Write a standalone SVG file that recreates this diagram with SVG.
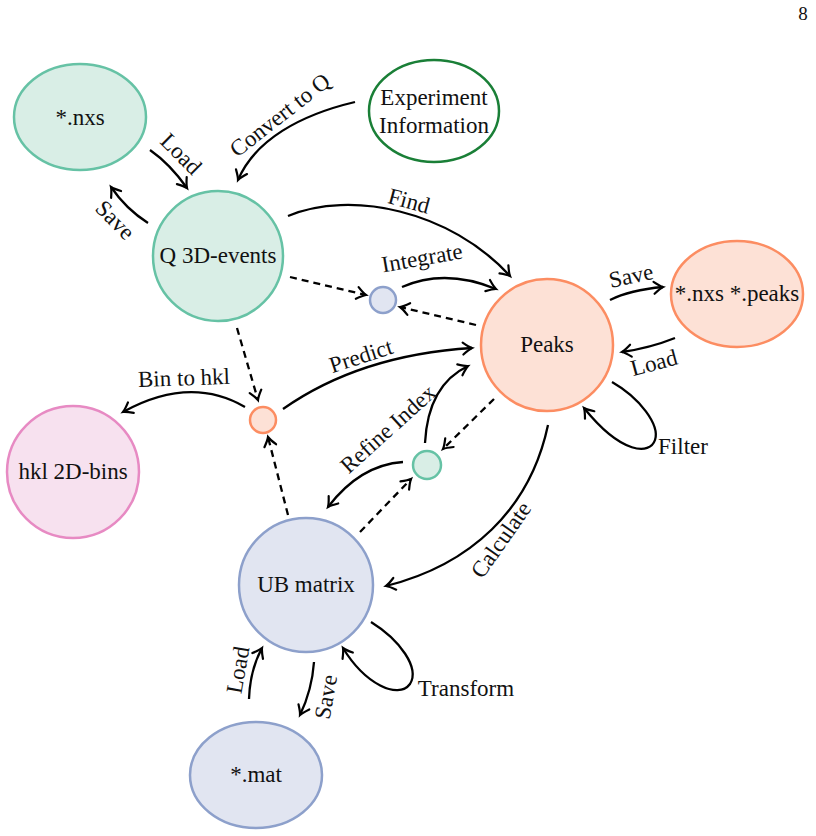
<svg xmlns="http://www.w3.org/2000/svg" width="816" height="836" viewBox="0 0 816 836" font-family="Liberation Serif, Tinos, Times New Roman, DejaVu Serif, serif">
<defs>
<style>
text{font-family:"Liberation Serif",Tinos,"Times New Roman","DejaVu Serif",serif;font-size:23px;fill:#111;}
.nt{text-anchor:middle;}
.lb{text-anchor:middle;dominant-baseline:central;}
.g{fill:#d9eee6;stroke:#66c2a5;stroke-width:2.5;}
.o{fill:#fde1d6;stroke:#fc8d62;stroke-width:2.5;}
.b{fill:#e1e5f1;stroke:#8da0cb;stroke-width:2.5;}
.p{fill:#f7e1ef;stroke:#e78ac3;stroke-width:2.5;}
.x{fill:#fff;stroke:#1a7f37;stroke-width:2.5;}
.e{fill:none;stroke:#000;stroke-width:2.3;marker-end:url(#ah);}
.d{fill:none;stroke:#000;stroke-width:2.3;stroke-dasharray:7,5;marker-end:url(#ah);}
</style>
<marker id="ah" markerUnits="userSpaceOnUse" markerWidth="16" markerHeight="16" viewBox="-11 -8 16 16" refX="0" refY="0" orient="auto">
<path d="M-9,-6 Q-3,-1.2 0,0 Q-3,1.2 -9,6" fill="none" stroke="#000" stroke-width="2.2" stroke-linecap="round"/>
</marker>
</defs>
<text x="803" y="20" style="font-size:19px" class="nt">8</text>
<g id="edges">
<path class="e" d="M150,150 Q170,164 187,188"/>
<path class="e" d="M148,223 Q126,209 111,187"/>
<path class="e" d="M355,102 C300,115 255,140 238,180"/>
<path class="e" d="M288,216 C350,190 450,210 510,276"/>
<path class="e" d="M402,287 Q445,268 496,289"/>
<path class="d" d="M290,277 L366,295"/>
<path class="d" d="M476,325 L400,307"/>
<path class="e" d="M610,300 Q630,290 663,287"/>
<path class="e" d="M675,338 Q650,348 622,352"/>
<path class="e" d="M612,382 C640,398 660,425 655,440 C650,455 622,455 584,408"/>
<path class="d" d="M237,328 L258,400"/>
<path class="e" d="M245,407 Q190,375 123,412"/>
<path class="e" d="M283,409 Q360,355 472,348"/>
<path class="d" d="M288,515 L268,437"/>
<path class="e" d="M425,443 Q428,385 468,366"/>
<path class="e" d="M403,462 Q360,465 328,507"/>
<path class="d" d="M494,399 L443,449"/>
<path class="d" d="M360,532 L411,479"/>
<path class="e" d="M548,425 C530,510 470,565 386,586"/>
<path class="e" d="M371,622 C400,640 420,668 410,684 C398,700 365,684 343,648"/>
<path class="e" d="M249,699 Q250,670 262,648"/>
<path class="e" d="M314,662 Q312,690 300,715"/>
</g>
<g id="edge-labels">
<text class="lb" transform="translate(181,154) rotate(45)">Load</text>
<text class="lb" transform="translate(115,220) rotate(45)">Save</text>
<text class="lb" transform="translate(280,115) rotate(-38)">Convert to Q</text>
<text class="lb" transform="translate(409,201) rotate(15)">Find</text>
<text class="lb" transform="translate(422,258) rotate(-10)">Integrate</text>
<text class="lb" transform="translate(631,276) rotate(-12)">Save</text>
<text class="lb" transform="translate(654,363) rotate(-15)">Load</text>
<text class="lb" transform="translate(683,446)">Filter</text>
<text class="lb" transform="translate(184,378) rotate(-2)">Bin to hkl</text>
<text class="lb" transform="translate(361,356) rotate(-18)">Predict</text>
<text class="lb" transform="translate(388,429) rotate(-42)">Refine Index</text>
<text class="lb" transform="translate(501,540) rotate(-55)">Calculate</text>
<text class="lb" transform="translate(466,688)">Transform</text>
<text class="lb" transform="translate(238,670) rotate(-80)">Load</text>
<text class="lb" transform="translate(326,697) rotate(-80)">Save</text>
</g>
<g id="n-nxs"><ellipse class="g" cx="80" cy="117" rx="66" ry="53"/><text class="nt" x="80" y="125">*.nxs</text></g>
<g id="n-q"><circle class="g" cx="218" cy="256" r="65"/><text class="nt" x="218" y="263">Q 3D-events</text></g>
<g id="n-exp"><ellipse class="x" cx="434" cy="111" rx="65" ry="51"/><text class="nt" x="434" y="105">Experiment</text><text class="nt" x="434" y="133">Information</text></g>
<g id="n-peaks"><circle class="o" cx="547" cy="345" r="66"/><text class="nt" x="547" y="352">Peaks</text></g>
<g id="n-peaksfile"><ellipse class="o" cx="737" cy="294" rx="66" ry="53"/><text class="nt" x="737" y="301">*.nxs *.peaks</text></g>
<g id="n-hkl"><circle class="p" cx="73" cy="472" r="66"/><text class="nt" x="73" y="479">hkl 2D-bins</text></g>
<g id="n-ub"><circle class="b" cx="306" cy="585" r="67"/><text class="nt" x="306" y="592">UB matrix</text></g>
<g id="n-mat"><ellipse class="b" cx="256" cy="775" rx="66" ry="53"/><text class="nt" x="256" y="782">*.mat</text></g>
<g id="n-int"><circle class="b" cx="383" cy="300" r="13"/></g>
<g id="n-pred"><circle class="o" cx="263" cy="420" r="13"/></g>
<g id="n-ref"><circle class="g" cx="427" cy="465" r="14"/></g>
</svg>
